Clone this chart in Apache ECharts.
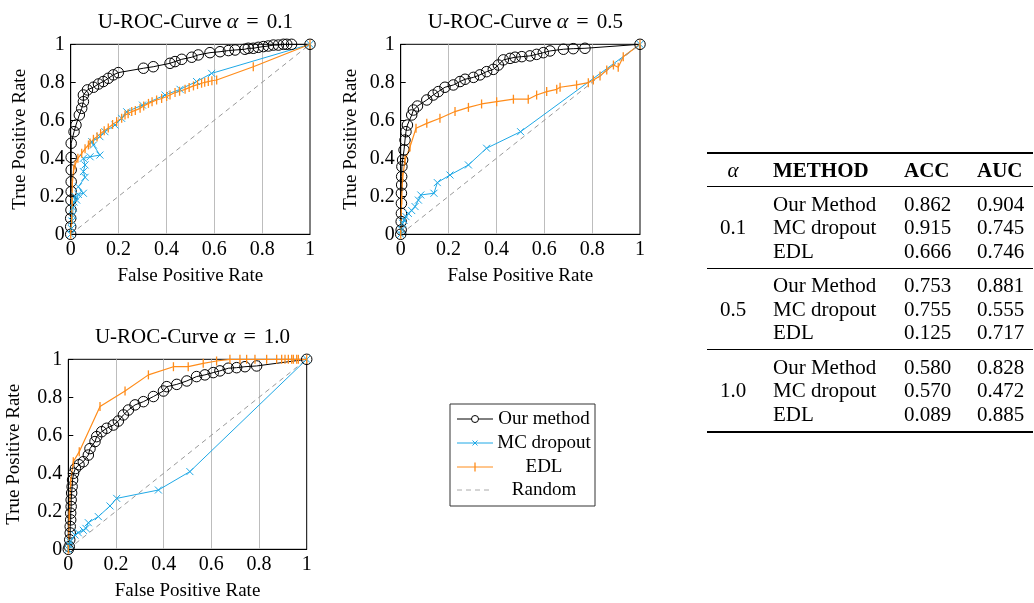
<!DOCTYPE html>
<html>
<head>
<meta charset="UTF-8">
<script src="https://cdn.jsdelivr.net/npm/echarts@6/dist/echarts.min.js"></script>
<style>
    body { margin: 0; background: #fff; }
    #wrap { position: relative; width: 1034px; height: 603px; }
    #main { position: absolute; left: 0; top: 0; width: 1034px; height: 603px; }
    #tbl { position: absolute; left: 0; top: 0; width: 1034px; height: 603px;
           font-family: "Liberation Serif", "Times New Roman", serif; font-size: 21px; color: #000; }
    #tbl div { position: absolute; white-space: nowrap; line-height: 1; }
    #tbl .rule { height: 0; border-top: 1px solid #000; }
    #tbl .thick { border-top-width: 2px; }
</style>
</head>
<body>
<div id="wrap">
    <div id="main"></div>
    <div id="tbl"></div>
</div>
<script>
    // ROC points [fpr, tpr]
    var ours01 = [[0,0],[0,0.04],[0,0.084],[0.001,0.128],[0.001,0.18],[0.002,0.225],[0.002,0.277],[0.002,0.339],[0.002,0.405],[0.002,0.479],[0.014,0.54],[0.022,0.575],[0.036,0.628],[0.046,0.663],[0.053,0.698],[0.053,0.733],[0.07,0.76],[0.095,0.774],[0.116,0.791],[0.136,0.804],[0.157,0.821],[0.178,0.839],[0.199,0.851],[0.304,0.874],[0.345,0.882],[0.415,0.9],[0.436,0.909],[0.464,0.921],[0.506,0.932],[0.533,0.944],[0.582,0.956],[0.624,0.961],[0.659,0.967],[0.687,0.97],[0.728,0.974],[0.742,0.979],[0.763,0.979],[0.784,0.984],[0.805,0.988],[0.826,0.991],[0.847,0.996],[0.868,0.996],[0.889,1],[0.903,1],[0.923,1],[1,1]];
    var mc01 = [[0,0],[0.003,0.03],[0.005,0.07],[0.008,0.1],[0.01,0.14],[0.014,0.17],[0.018,0.2],[0.025,0.18],[0.032,0.21],[0.053,0.216],[0.032,0.25],[0.06,0.3],[0.053,0.33],[0.06,0.365],[0.053,0.4],[0.081,0.408],[0.122,0.417],[0.095,0.47],[0.088,0.487],[0.122,0.514],[0.143,0.54],[0.185,0.575],[0.213,0.61],[0.234,0.645],[0.30,0.68],[0.394,0.733],[0.457,0.763],[0.526,0.804],[0.589,0.847],[1,1]];
    var edl01 = [[0,0],[0.004,0.08],[0.006,0.17],[0.007,0.27],[0.012,0.34],[0.018,0.365],[0.03,0.4],[0.046,0.426],[0.06,0.45],[0.074,0.47],[0.081,0.48],[0.095,0.5],[0.11,0.514],[0.125,0.53],[0.14,0.545],[0.157,0.56],[0.175,0.578],[0.192,0.593],[0.213,0.611],[0.227,0.628],[0.24,0.635],[0.255,0.646],[0.27,0.652],[0.29,0.663],[0.305,0.675],[0.325,0.689],[0.34,0.697],[0.359,0.707],[0.38,0.715],[0.401,0.725],[0.415,0.733],[0.436,0.746],[0.455,0.753],[0.478,0.763],[0.495,0.772],[0.513,0.781],[0.53,0.788],[0.547,0.795],[0.56,0.8],[0.575,0.804],[0.59,0.808],[0.61,0.812],[0.763,0.882],[1,1]];

    var ours05 = [[0,0],[0.002,0.023],[0.002,0.067],[0.003,0.11],[0.003,0.163],[0.003,0.216],[0.004,0.26],[0.004,0.304],[0.005,0.356],[0.008,0.391],[0.014,0.444],[0.018,0.496],[0.022,0.54],[0.028,0.575],[0.046,0.628],[0.053,0.654],[0.07,0.675],[0.109,0.707],[0.136,0.733],[0.157,0.751],[0.185,0.774],[0.22,0.786],[0.248,0.804],[0.269,0.816],[0.304,0.826],[0.331,0.839],[0.359,0.856],[0.387,0.868],[0.408,0.891],[0.429,0.918],[0.457,0.926],[0.478,0.932],[0.506,0.935],[0.54,0.939],[0.568,0.947],[0.596,0.956],[0.624,0.965],[0.68,0.974],[0.721,0.977],[0.77,0.979],[1,1]];
    var mc05 = [[0,0],[0.004,0.023],[0.008,0.058],[0.014,0.075],[0.022,0.093],[0.032,0.11],[0.046,0.125],[0.06,0.146],[0.074,0.18],[0.084,0.207],[0.139,0.216],[0.153,0.272],[0.206,0.312],[0.283,0.365],[0.359,0.453],[0.501,0.54],[1,1]];
    var edl05 = [[0,0],[0.004,0.18],[0.008,0.3],[0.018,0.39],[0.039,0.46],[0.064,0.558],[0.109,0.584],[0.164,0.611],[0.227,0.646],[0.283,0.668],[0.338,0.686],[0.401,0.698],[0.471,0.711],[0.533,0.711],[0.568,0.733],[0.61,0.751],[0.652,0.763],[0.666,0.774],[0.735,0.786],[0.784,0.798],[0.805,0.812],[0.833,0.833],[0.861,0.865],[0.889,0.891],[0.909,0.879],[0.93,0.935],[1,1]];

    var ours10 = [[0,0],[0.004,0.014],[0.006,0.05],[0.008,0.086],[0.008,0.12],[0.01,0.155],[0.01,0.19],[0.012,0.225],[0.012,0.26],[0.014,0.296],[0.016,0.33],[0.018,0.365],[0.022,0.4],[0.03,0.425],[0.045,0.445],[0.063,0.461],[0.084,0.496],[0.091,0.53],[0.112,0.567],[0.119,0.593],[0.14,0.619],[0.161,0.637],[0.189,0.654],[0.21,0.675],[0.231,0.707],[0.252,0.733],[0.28,0.76],[0.315,0.777],[0.357,0.804],[0.399,0.833],[0.413,0.856],[0.455,0.868],[0.497,0.886],[0.538,0.909],[0.573,0.918],[0.608,0.93],[0.636,0.939],[0.671,0.953],[0.706,0.956],[0.741,0.961],[0.79,0.965],[1,1]];
    var mc10 = [[0,0],[0.004,0.023],[0.007,0.04],[0.028,0.075],[0.042,0.087],[0.063,0.1],[0.074,0.11],[0.084,0.14],[0.126,0.172],[0.175,0.228],[0.203,0.268],[0.378,0.312],[0.51,0.409],[1,1]];
    var edl10 = [[0,0],[0.004,0.18],[0.01,0.356],[0.021,0.461],[0.046,0.514],[0.133,0.751],[0.238,0.833],[0.336,0.918],[0.441,0.961],[0.503,0.961],[0.566,0.979],[0.622,0.991],[0.678,1],[0.72,1],[0.748,1],[0.783,1],[0.832,1],[0.874,1],[0.895,1],[0.909,1],[0.923,1],[0.937,1],[0.944,1],[0.958,1],[0.965,1],[1,1]];

    var randomLine = [[0,0],[1,1]];

    var alphas = ['0.1', '0.5', '1.0'];
    var methods = ['Our Method', 'MC dropout', 'EDL'];
    var accVals = [['0.862','0.915','0.666'], ['0.753','0.755','0.125'], ['0.580','0.570','0.089']];
    var aucVals = [['0.904','0.745','0.746'], ['0.881','0.555','0.717'], ['0.828','0.472','0.885']];
    var legendNames = ['Our method', 'MC dropout', 'EDL', 'Random'];

    var FONT = '"Liberation Serif", "Times New Roman", serif';
    var BLUE = '#1ea8e6';
    var ORANGE = '#ff8c1a';

    var plots = [
        {alpha: '0.1', grid: {left: 70.7, top: 44.3, width: 239.3, height: 190}, yGap: 41, data: [ours01, mc01, edl01]},
        {alpha: '0.5', grid: {left: 400.7, top: 44.3, width: 239.3, height: 190}, yGap: 40, data: [ours05, mc05, edl05]},
        {alpha: '1.0', grid: {left: 68.3, top: 359.3, width: 238.4, height: 190}, yGap: 45, data: [ours10, mc10, edl10]}
    ];

    var grids = [], xAxes = [], yAxes = [], titles = [], series = [];
    plots.forEach(function (p, i) {
        grids.push({left: p.grid.left, top: p.grid.top, width: p.grid.width, height: p.grid.height,
            show: true, borderColor: '#000', borderWidth: 1, backgroundColor: 'transparent'});
        titles.push({
            text: 'U-ROC-Curve {a|α}{e|=}' + p.alpha,
            left: p.grid.left + p.grid.width / 2, top: p.grid.top - 38, textAlign: 'center',
            textStyle: {fontFamily: FONT, fontSize: 21, fontWeight: 'normal', color: '#000',
                rich: {
                    a: {fontFamily: FONT, fontSize: 22, fontStyle: 'italic', color: '#000'},
                    e: {fontFamily: FONT, fontSize: 22, color: '#000', padding: [0, 8, 0, 8]}
                }}
        });
        xAxes.push({
            gridIndex: i, type: 'value', min: 0, max: 1, interval: 0.2,
            axisLine: {show: true, onZero: false, lineStyle: {color: '#000', width: 1}},
            axisTick: {show: false},
            axisLabel: {color: '#000', fontFamily: FONT, fontSize: 20, margin: 5},
            splitLine: {show: true, showMinLine: false, showMaxLine: false, lineStyle: {color: '#bdbdbd', width: 1}},
            name: 'False Positive Rate', nameLocation: 'middle', nameGap: 32,
            nameTextStyle: {color: '#000', fontFamily: FONT, fontSize: 19}
        });
        yAxes.push({
            gridIndex: i, type: 'value', min: 0, max: 1, interval: 0.2,
            axisLine: {show: true, onZero: false, lineStyle: {color: '#000', width: 1}},
            axisTick: {show: true, inside: true, length: 5, lineStyle: {color: '#000'}},
            axisLabel: {color: '#000', fontFamily: FONT, fontSize: 20, margin: 6},
            splitLine: {show: false},
            name: 'True Positive Rate', nameLocation: 'middle', nameGap: p.yGap,
            nameTextStyle: {color: '#000', fontFamily: FONT, fontSize: 19}
        });
        series.push({
            name: 'Our method', type: 'line', xAxisIndex: i, yAxisIndex: i, data: p.data[0],
            symbol: 'circle', symbolSize: 10.5,
            itemStyle: {color: 'transparent', borderColor: '#000', borderWidth: 1},
            lineStyle: {color: '#000', width: 1}
        });
        series.push({
            name: 'MC dropout', type: 'line', xAxisIndex: i, yAxisIndex: i, data: p.data[1],
            symbol: 'path://M0,0L10,10M10,0L0,10', symbolSize: 7,
            itemStyle: {color: 'transparent', borderColor: BLUE, borderWidth: 1},
            lineStyle: {color: BLUE, width: 1}
        });
        series.push({
            name: 'EDL', type: 'line', xAxisIndex: i, yAxisIndex: i, data: p.data[2],
            symbol: 'rect', symbolSize: [1.3, 9],
            itemStyle: {color: ORANGE},
            lineStyle: {color: ORANGE, width: 1.2}
        });
        series.push({
            name: 'Random', type: 'line', xAxisIndex: i, yAxisIndex: i, data: randomLine,
            symbol: 'none', lineStyle: {color: '#999', width: 1, type: [5, 4]}
        });
    });
    series.forEach(function (s) { s.animation = false; s.silent = true; s.emphasis = {disabled: true}; });

    // legend box, drawn by hand so the labels can be centred like the original
    var lg = {x: 450, y: 404, w: 145, h: 102, rowY: [419, 443, 467, 490], textX: 544};
    var legendEls = [{type: 'rect', shape: {x: lg.x, y: lg.y, width: lg.w, height: lg.h},
        style: {fill: '#fff', stroke: '#333', lineWidth: 1}}];
    var lgColors = ['#000', BLUE, ORANGE, '#aaa'];
    legendNames.forEach(function (n, k) {
        var y = lg.rowY[k];
        legendEls.push({type: 'line', shape: {x1: 457, y1: y, x2: 493, y2: y},
            style: {stroke: lgColors[k], lineWidth: 1, lineDash: k === 3 ? [5, 4] : null}});
        if (k === 0) legendEls.push({type: 'circle', shape: {cx: 475, cy: y, r: 3.5}, style: {fill: '#fff', stroke: '#000', lineWidth: 1}});
        if (k === 1) legendEls.push({type: 'polyline', shape: {points: [[472.5, y - 2.5], [477.5, y + 2.5]]}, style: {stroke: BLUE, lineWidth: 1}},
            {type: 'polyline', shape: {points: [[477.5, y - 2.5], [472.5, y + 2.5]]}, style: {stroke: BLUE, lineWidth: 1}});
        if (k === 2) legendEls.push({type: 'line', shape: {x1: 475, y1: y - 4.5, x2: 475, y2: y + 4.5}, style: {stroke: ORANGE, lineWidth: 1.3}});
        legendEls.push({type: 'text', x: lg.textX, y: y, style: {text: n, fill: '#000', font: '19px ' + FONT,
            textAlign: 'center', textVerticalAlign: 'middle'}});
    });

    var chart = echarts.init(document.getElementById('main'), null, {renderer: 'canvas'});
    chart.setOption({
        animation: false,
        backgroundColor: '#fff',
        title: titles,
        grid: grids,
        xAxis: xAxes,
        yAxis: yAxes,
        series: series,
        graphic: legendEls
    });

    // results table
    var tbl = document.getElementById('tbl');
    function put(html, x, y, align, bold) {
        var d = document.createElement('div');
        d.innerHTML = html;
        d.style.left = x + 'px';
        d.style.top = y + 'px';
        d.style.transform = align === 'center' ? 'translate(-50%,-50%)' : 'translateY(-50%)';
        if (bold) d.style.fontWeight = 'bold';
        tbl.appendChild(d);
    }
    function rule(y, thick) {
        var d = document.createElement('div');
        d.className = 'rule' + (thick ? ' thick' : '');
        d.style.left = '707px';
        d.style.width = '326px';
        d.style.top = y + 'px';
        tbl.appendChild(d);
    }
    rule(152, true);
    put('<i>α</i>', 733, 170, 'center');
    put('METHOD', 773, 170, 'left', true);
    put('ACC', 904, 170, 'left', true);
    put('AUC', 977, 170, 'left', true);
    rule(186);
    var groupTop = [203.5, 285, 366.5];
    alphas.forEach(function (a, g) {
        put(a, 733, groupTop[g] + 23.7, 'center');
        methods.forEach(function (m, r) {
            var y = groupTop[g] + r * 23.7;
            put(m, 773, y, 'left');
            put(accVals[g][r], 904, y, 'left');
            put(aucVals[g][r], 977, y, 'left');
        });
        if (g < 2) rule(groupTop[g] + 64, false);
    });
    rule(430.5, true);
</script>
</body>
</html>
